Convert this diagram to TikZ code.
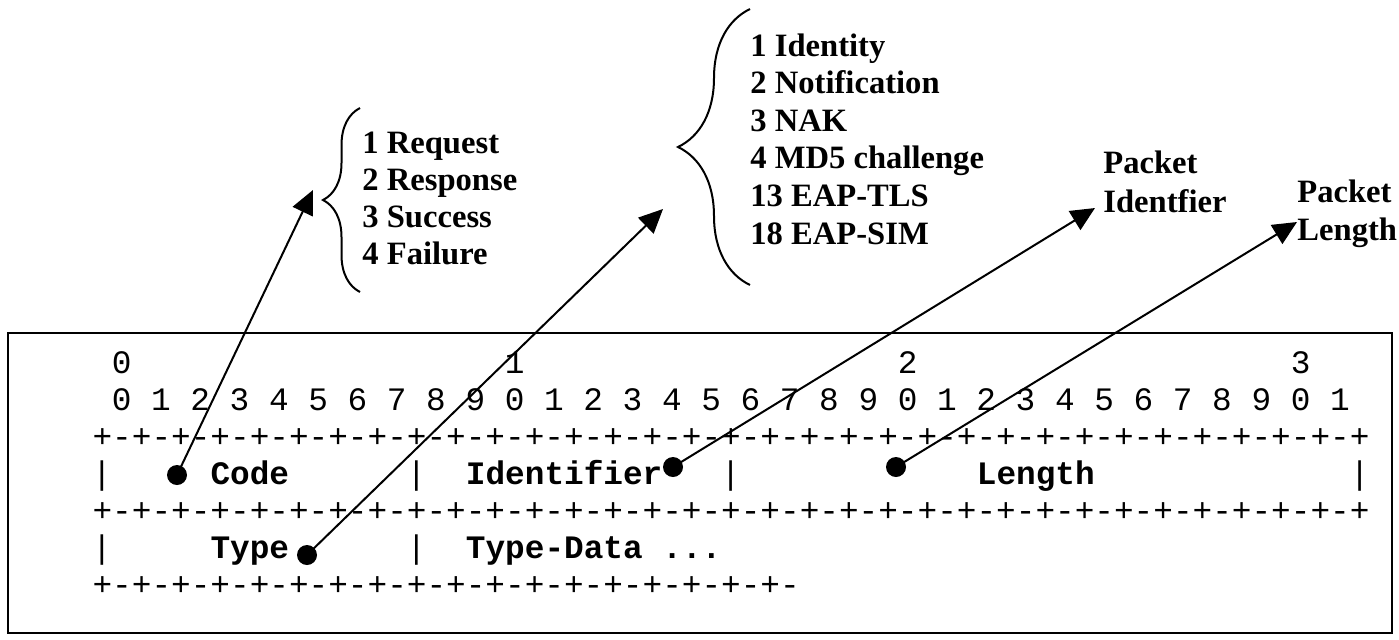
\documentclass[tikz,border=0pt]{standalone}
\usepackage{fontspec}
\setmainfont{Liberation Serif}
\setmonofont{Liberation Mono}
\usetikzlibrary{arrows.meta,decorations.pathreplacing}
\begin{document}
\begin{tikzpicture}[x=0.5pt,y=-0.5pt,
    every node/.style={inner sep=0pt},
    note/.style={anchor=base west,font=\fontsize{16.3}{18.75}\selectfont\bfseries},
    mono/.style={anchor=base,font=\fontsize{16.37}{18.75}\selectfont\ttfamily},
    field/.style={anchor=base west,font=\fontsize{16.37}{18.75}\selectfont\ttfamily\bfseries},
    rule/.style={anchor=base west,font=\fontsize{16.37}{18.75}\selectfont\ttfamily},
    dot/.style={circle,fill,minimum width=9.5pt,minimum height=10pt},
    ptr/.style={line width=1pt,-{Triangle[length=12pt,width=11pt]}},
    curly/.style={decorate,decoration={brace,amplitude=#1},line width=1pt}]

        \useasboundingbox (0,0) rectangle (1399,639);
        \draw[line width=1.2pt] (8,333) rectangle (1392,633);

        \foreach \c/\d in {1/0,21/1,41/2,61/3}
          \node[mono] (ten\d) at ({102+19.65*\c},373) {\d};
        \foreach \i in {0,...,31}{
          \pgfmathtruncatemacro\d{mod(\i,10)}
          \node[mono] (bit\i) at ({102+19.65*(2*\i+1)},410) {\d};
        }
        \node[rule] (rulea) at (92.2,447) {+-+-+-+-+-+-+-+-+-+-+-+-+-+-+-+-+-+-+-+-+-+-+-+-+-+-+-+-+-+-+-+-+};
        \node[rule] (ruleb) at (92.2,521) {+-+-+-+-+-+-+-+-+-+-+-+-+-+-+-+-+-+-+-+-+-+-+-+-+-+-+-+-+-+-+-+-+};
        \node[rule] (rulec) at (92.2,595) {+-+-+-+-+-+-+-+-+-+-+-+-+-+-+-+-+-+-};
        \foreach \c in {0,16,32,64}
          \node[mono] (bara\c) at ({102+19.65*\c},484) {|};
        \foreach \c in {0,16}
          \node[mono] (barb\c) at ({102+19.65*\c},558) {|};
        \node[field] (code) at ({92.2+19.65*6},484) {Code};
        \node[field] (ident) at ({92.2+19.65*19},484) {Identifier};
        \node[field] (length) at ({92.2+19.65*45},484) {Length};
        \node[field] (type) at ({92.2+19.65*6},558) {Type};
        \node[field] (tdata) at ({92.2+19.65*19},558) {Type-Data ...};

        \draw[curly=18.5pt] (360,292) -- (360,108);
        \foreach \t [count=\i] in {1 Request,2 Response,3 Success,4 Failure}
          \node[note] (codeval\i) at (362,{153+37.3*(\i-1)}) {\t};
        \draw[curly=36pt] (750,285) -- (750,9);
        \foreach \t [count=\i] in {1 Identity,2 Notification,3 NAK,4 MD5 challenge,13 EAP-TLS,18 EAP-SIM}
          \node[note] (typeval\i) at (750,{56+37.6*(\i-1)}) {\t};
        \node[note] (pida) at (1103,173) {Packet};
        \node[note] (pidb) at (1103,212) {Identfier};
        \node[note] (plena) at (1297,202) {Packet};
        \node[note] (plenb) at (1297,240) {Length};

        \node[dot] (codept) at (177,475) {};
        \node[dot] (typept) at (307,555) {};
        \node[dot] (identpt) at (673,467) {};
        \node[dot] (lengthpt) at (896,467) {};
        \coordinate (codetip) at (313,190);
        \coordinate (typetip) at (663,209);
        \coordinate (identtip) at (1095,208);
        \coordinate (lengthtip) at (1297,222);
        \draw[ptr] (codept.center) -- (codetip);
        \draw[ptr] (typept.center) -- (typetip);
        \draw[ptr] (identpt.center) -- (identtip);
        \draw[ptr] (lengthpt.center) -- (lengthtip);
      \end{tikzpicture}
\end{document}
